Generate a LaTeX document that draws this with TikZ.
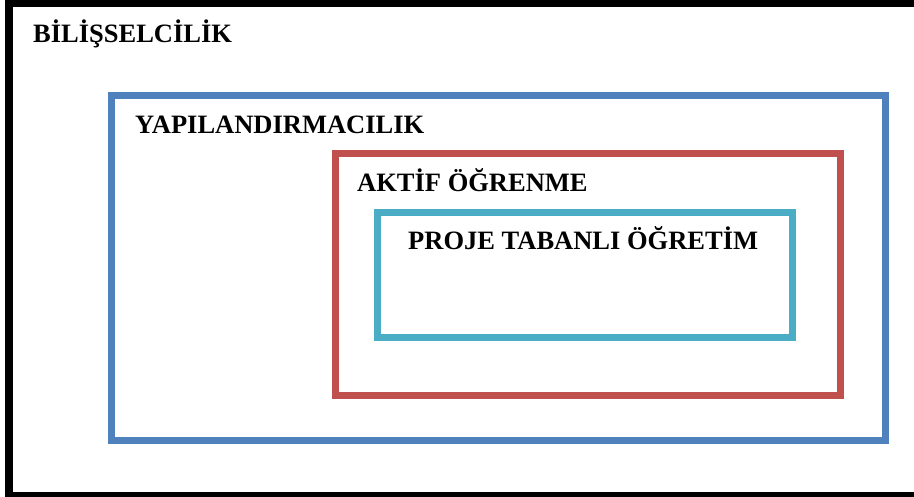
\documentclass[tikz,border=0pt]{standalone}
\usepackage{fontspec}
\setmainfont{Liberation Serif}
\definecolor{obBlue}{HTML}{4F81BD}
\definecolor{obRed}{HTML}{C0504D}
\definecolor{obCyan}{HTML}{4BACC6}
\tikzset{
  lbl/.style={anchor=base west, inner sep=0pt, font=\fontsize{26.5}{30}\selectfont\bfseries},
  frame/.style={line join=miter}
}
\begin{document}
\begin{tikzpicture}[x=1pt,y=-1pt]
\useasboundingbox (0,0) rectangle (914,497);
\clip (0,0) rectangle (914,497);
\fill[white] (0,0) rectangle (914,497);
% outer black frame
\draw[frame, black, line width=8pt] (9,3.5) rectangle (930,495.5);
% blue
\draw[frame, obBlue, line width=7pt] (111.5,95.5) rectangle (885.5,440.5);
% red
\draw[frame, obRed, line width=7pt] (335,154) rectangle (840,395.5);
% cyan
\draw[frame, obCyan, line width=7pt] (377.5,212.5) rectangle (792.5,337.5);
\node[lbl] (t1) at (33,43) {BİLİŞSELCİLİK};
\node[lbl] (t2) at (135,134) {YAPILANDIRMACILIK};
\node[lbl] (t3) at (357,192) {AKTİF ÖĞRENME};
\node[lbl] (t4) at (408,250) {PROJE TABANLI ÖĞRETİM};
\end{tikzpicture}
\end{document}
